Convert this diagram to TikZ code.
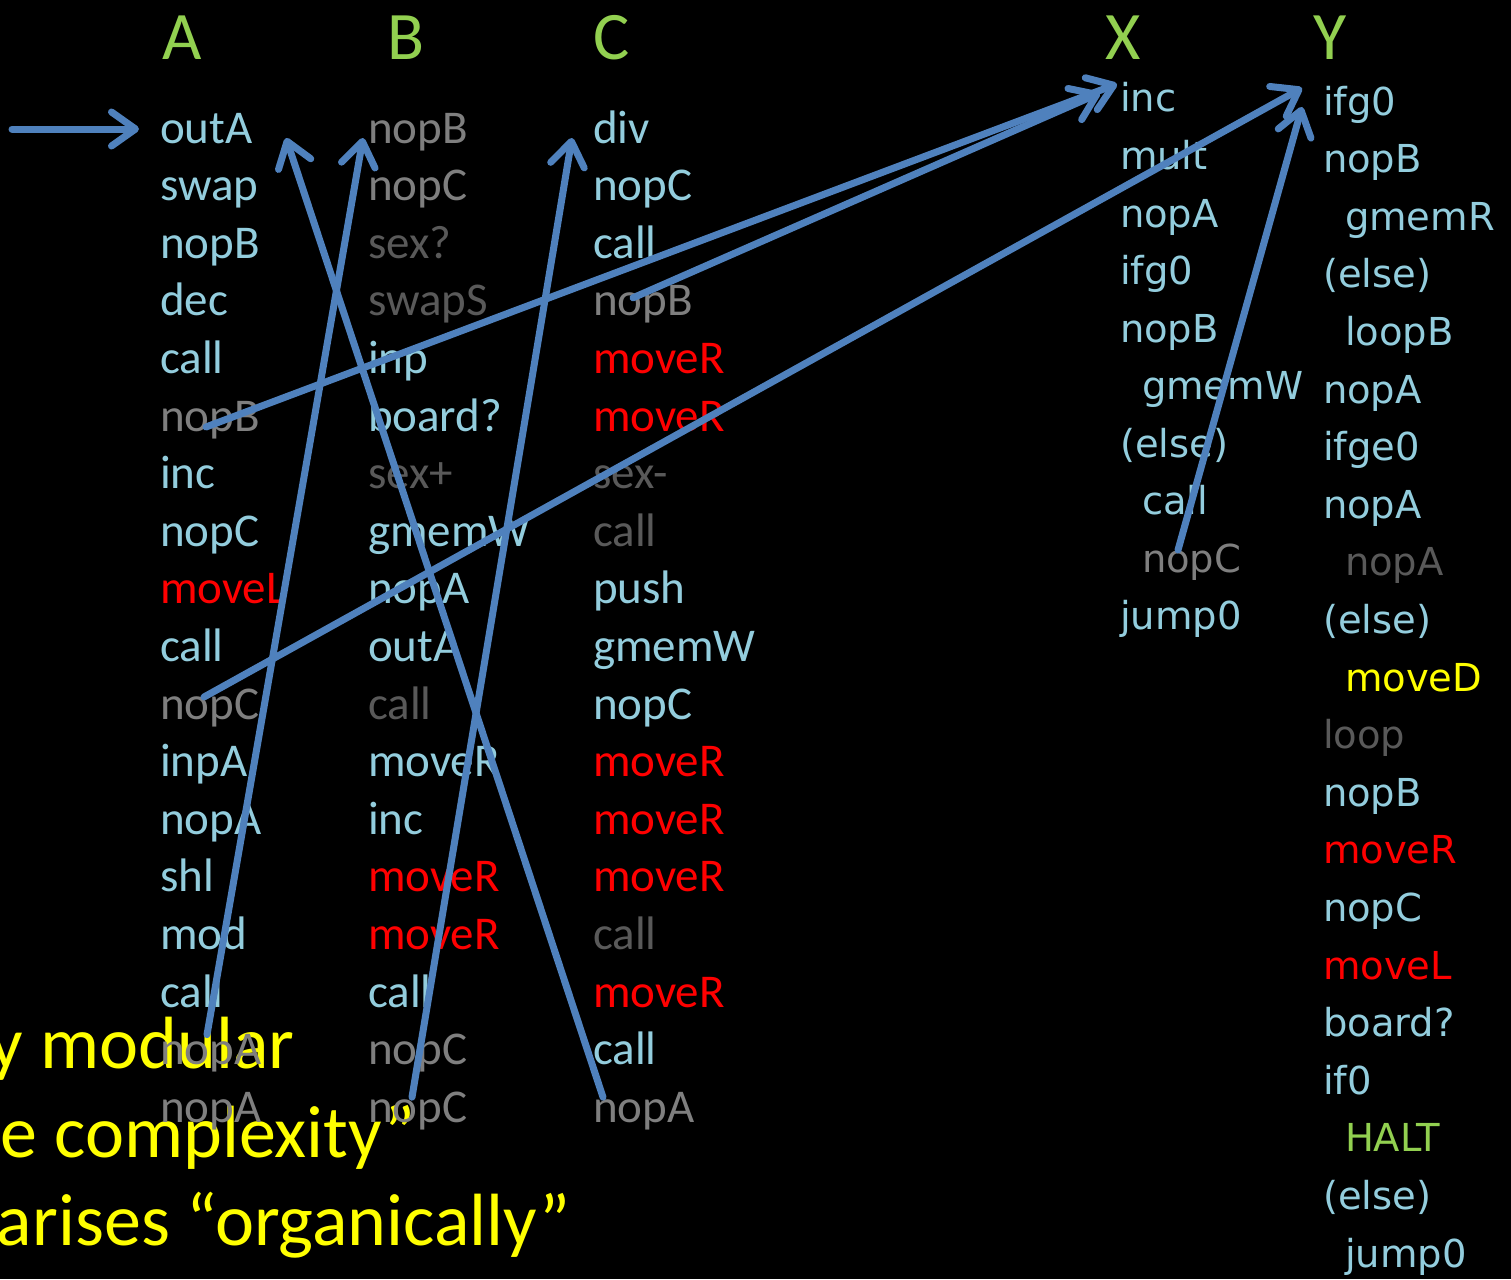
\documentclass[tikz,border=0pt]{standalone}
\usepackage{fontspec}
\usetikzlibrary{arrows.meta}
\newfontfamily\colfont{Carlito}
\newfontfamily\xyfont{DejaVu Sans}
\definecolor{opblue}{HTML}{93CDDD}
\definecolor{nopgrey}{HTML}{7F7F7F}
\definecolor{dimgrey}{HTML}{595959}
\definecolor{hdgreen}{HTML}{92D050}
\definecolor{arrblue}{HTML}{4F81BD}
\definecolor{tagyellow}{HTML}{FFFF00}
\definecolor{hotred}{HTML}{FF0000}
\begin{document}
\begin{tikzpicture}[x=1pt,y=-1pt,inner sep=0pt,outer sep=0pt,
op/.style={anchor=base west,font=\colfont\fontsize{47}{56}\selectfont,text=opblue},
xy/.style={anchor=base west,font=\xyfont\fontsize{38.5}{46}\selectfont,text=opblue},
hdr/.style={anchor=base west,font=\colfont\fontsize{68}{80}\selectfont,text=hdgreen},
note/.style={anchor=base west,font=\colfont\fontsize{74}{88}\selectfont,text=tagyellow},
flow/.style={draw=arrblue,line width=7pt,line cap=round,-{Straight Barb[length=24pt,width=34pt,round]}}]
\useasboundingbox (0,0) rectangle (1511,1279);
\clip (0,0) rectangle (1511,1279);
\fill[black] (0,0) rectangle (1511,1279);
\draw (-10,1068) node[note] (n1) {y modular};
\draw (1,1157) node[note] (n2) {e complexity”};
\draw (-3,1245) node[note] (n3) {arises “organically”};
\draw (162,60) node[hdr] (hA) {A};
\draw (387,60) node[hdr] (hB) {B};
\draw (593,60) node[hdr] (hC) {C};
\draw (1105,60) node[hdr] (hX) {X};
\draw (1313,60) node[hdr] (hY) {Y};
\draw (160,143) node[op] (A1) {outA};
\draw (160,200.6) node[op] (A2) {swap};
\draw (160,258.2) node[op] (A3) {nopB};
\draw (160,315.8) node[op] (A4) {dec};
\draw (160,373.4) node[op] (A5) {call};
\draw (160,431) node[op,text=nopgrey] (A6) {nopB};
\draw (160,488.6) node[op] (A7) {inc};
\draw (160,546.2) node[op] (A8) {nopC};
\draw (160,603.8) node[op,text=hotred] (A9) {moveL};
\draw (160,661.4) node[op] (A10) {call};
\draw (160,719) node[op,text=nopgrey] (A11) {nopC};
\draw (160,776.6) node[op] (A12) {inpA};
\draw (160,834.2) node[op] (A13) {nopA};
\draw (160,891.8) node[op] (A14) {shl};
\draw (160,949.4) node[op] (A15) {mod};
\draw (160,1007) node[op] (A16) {call};
\draw (160,1064.6) node[op,text=nopgrey] (A17) {nopA};
\draw (160,1122.2) node[op,text=nopgrey] (A18) {nopA};
\draw (368,143) node[op,text=nopgrey] (B1) {nopB};
\draw (368,200.6) node[op,text=nopgrey] (B2) {nopC};
\draw (368,258.2) node[op,text=dimgrey] (B3) {sex?};
\draw (368,315.8) node[op,text=dimgrey] (B4) {swapS};
\draw (368,373.4) node[op] (B5) {inp};
\draw (368,431) node[op] (B6) {board?};
\draw (368,488.6) node[op,text=dimgrey] (B7) {sex+};
\draw (368,546.2) node[op] (B8) {gmemW};
\draw (368,603.8) node[op] (B9) {nopA};
\draw (368,661.4) node[op] (B10) {outA};
\draw (368,719) node[op,text=dimgrey] (B11) {call};
\draw (368,776.6) node[op] (B12) {moveR};
\draw (368,834.2) node[op] (B13) {inc};
\draw (368,891.8) node[op,text=hotred] (B14) {moveR};
\draw (368,949.4) node[op,text=hotred] (B15) {moveR};
\draw (368,1007) node[op] (B16) {call};
\draw (368,1064.6) node[op,text=nopgrey] (B17) {nopC};
\draw (368,1122.2) node[op,text=nopgrey] (B18) {nopC};
\draw (593,143) node[op] (C1) {div};
\draw (593,200.6) node[op] (C2) {nopC};
\draw (593,258.2) node[op] (C3) {call};
\draw (593,315.8) node[op,text=nopgrey] (C4) {nopB};
\draw (593,373.4) node[op,text=hotred] (C5) {moveR};
\draw (593,431) node[op,text=hotred] (C6) {moveR};
\draw (593,488.6) node[op,text=dimgrey] (C7) {sex-};
\draw (593,546.2) node[op,text=dimgrey] (C8) {call};
\draw (593,603.8) node[op] (C9) {push};
\draw (593,661.4) node[op] (C10) {gmemW};
\draw (593,719) node[op] (C11) {nopC};
\draw (593,776.6) node[op,text=hotred] (C12) {moveR};
\draw (593,834.2) node[op,text=hotred] (C13) {moveR};
\draw (593,891.8) node[op,text=hotred] (C14) {moveR};
\draw (593,949.4) node[op,text=dimgrey] (C15) {call};
\draw (593,1007) node[op,text=hotred] (C16) {moveR};
\draw (593,1064.6) node[op] (C17) {call};
\draw (593,1122.2) node[op,text=nopgrey] (C18) {nopA};
\draw (1120,112) node[xy] (X1) {inc};
\draw (1120,169.5) node[xy] (X2) {mult};
\draw (1120,227) node[xy] (X3) {nopA};
\draw (1120,284.5) node[xy] (X4) {ifg0};
\draw (1120,342) node[xy] (X5) {nopB};
\draw (1142,399.5) node[xy] (X6) {gmemW};
\draw (1120,457) node[xy] (X7) {(else)};
\draw (1142,514.5) node[xy] (X8) {call};
\draw (1142,572) node[xy,text=nopgrey] (X9) {nopC};
\draw (1120,629.5) node[xy] (X10) {jump0};
\draw (1323,115) node[xy] (Y1) {ifg0};
\draw (1323,172.6) node[xy] (Y2) {nopB};
\draw (1345,230.2) node[xy] (Y3) {gmemR};
\draw (1323,287.8) node[xy] (Y4) {(else)};
\draw (1345,345.4) node[xy] (Y5) {loopB};
\draw (1323,403) node[xy] (Y6) {nopA};
\draw (1323,460.6) node[xy] (Y7) {ifge0};
\draw (1323,518.2) node[xy] (Y8) {nopA};
\draw (1345,575.8) node[xy,text=dimgrey] (Y9) {nopA};
\draw (1323,633.4) node[xy] (Y10) {(else)};
\draw (1345,691) node[xy,text=tagyellow] (Y11) {moveD};
\draw (1323,748.6) node[xy,text=dimgrey] (Y12) {loop};
\draw (1323,806.2) node[xy] (Y13) {nopB};
\draw (1323,863.8) node[xy,text=hotred] (Y14) {moveR};
\draw (1323,921.4) node[xy] (Y15) {nopC};
\draw (1323,979) node[xy,text=hotred] (Y16) {moveL};
\draw (1323,1036.6) node[xy] (Y17) {board?};
\draw (1323,1094.2) node[xy] (Y18) {if0};
\draw (1345,1151.8) node[xy,text=hdgreen] (Y19) {HALT};
\draw (1323,1209.4) node[xy] (Y20) {(else)};
\draw (1345,1267) node[xy] (Y21) {jump0};
\coordinate (entry) at (12,129);
\draw[flow] (entry) -- ([shift={(-21,-14)}]A1.base west);
\draw[flow] ([shift={(47,-30)}]A17.base west) -- ([shift={(-5,-5)}]B1.base west);
\draw[flow] ([shift={(44,-25)}]B18.base west) -- ([shift={(-21,-5)}]C1.base west);
\draw[flow] ([shift={(10,-25)}]C18.base west) -- ([shift={(126,-5)}]A1.base west);
\draw[flow] ([shift={(46,-4)}]A6.base west) -- ([shift={(-3,-28)}]X1.base west);
\draw[flow] ([shift={(40,-18)}]C4.base west) -- ([shift={(-20,-19)}]X1.base west);
\draw[flow] ([shift={(44,-22)}]A11.base west) -- ([shift={(-21,-27)}]Y1.base west);
\draw[flow] ([shift={(36,-22)}]X9.base west) -- ([shift={(-21,-8)}]Y1.base west);
\end{tikzpicture}
\end{document}
